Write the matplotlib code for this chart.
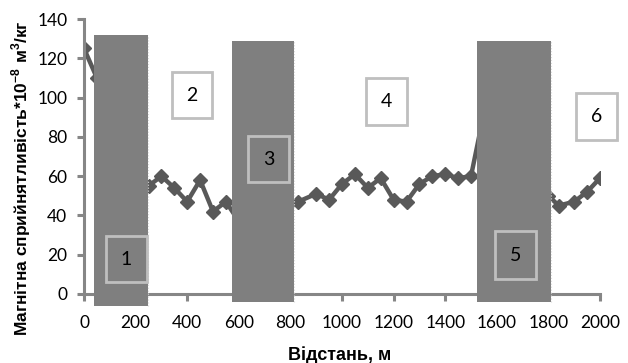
import matplotlib.pyplot as plt
from matplotlib.patches import Rectangle

plt.rcParams['mathtext.fontset'] = 'custom'
plt.rcParams['mathtext.rm'] = 'Liberation Sans'
plt.rcParams['mathtext.bf'] = 'Liberation Sans:bold'

# profile data (distance, m / susceptibility)
distance = [0, 50, 100, 150, 200, 250, 300, 350, 400, 450, 500, 550, 600,
            650, 700, 750, 800, 830, 900, 950, 1000, 1050, 1100, 1150, 1200,
            1250, 1300, 1350, 1400, 1450, 1500, 1550, 1600, 1650, 1700, 1750,
            1800, 1840, 1900, 1950, 2000]
suscept = [125, 110, 90, 75, 62, 55, 60, 54, 47, 58, 42, 47, 37,
           44, 48, 45, 47, 47, 51, 48, 56, 61, 54, 59, 48,
           47, 56, 60, 61, 59, 60, 92, 90, 80, 70, 60,
           50, 45, 47, 52, 59]

# dark zones: (x start, x end, top)
zones = [(40, 249, 132), (575, 814, 129), (1525, 1810, 129)]
zone_bottom = [-6, -4, -4]

# numbered boxes: label, x range, y range
box_labels = ['1', '2', '3', '4', '5', '6']
box_x = [(85, 244), (341, 496), (636, 795), (1093, 1252), (1593, 1752), (1907, 2066)]
box_y = [(6, 29.5), (89.6, 113), (57, 80.4), (86, 110), (7.6, 32), (78.4, 102.3)]
box_face = ['#7f7f7f', 'white', '#7f7f7f', 'white', '#7f7f7f', 'white']

fig = plt.figure(figsize=(6.28, 3.63), dpi=100)
ax = fig.add_axes([84 / 628, 1 - 294 / 363, 516 / 628, 275 / 363])

ax.plot(distance, suscept, color='#595959', lw=3.2, marker='D', ms=7,
        zorder=2)

for (x0, x1, top), bot in zip(zones, zone_bottom):
    ax.add_patch(Rectangle((x0, bot), x1 - x0, top - bot, facecolor='#7f7f7f',
                           edgecolor='none', zorder=3, clip_on=False))
    ax.plot([x1, x1], [bot, top], color='#d9d9d9', lw=0.8, ls=':', zorder=3,
            clip_on=False)

for lab, (x0, x1), (y0, y1), fc in zip(box_labels, box_x, box_y, box_face):
    ax.add_patch(Rectangle((x0, y0), x1 - x0, y1 - y0, facecolor=fc,
                           edgecolor='#bfbfbf', lw=2, zorder=4, clip_on=False))
    ax.text((x0 + x1) / 2, (y0 + y1) / 2, lab, ha='center', va='center',
            fontsize=14, family='Lato', color='black', zorder=5)

ax.set_xlim(0, 2000)
ax.set_ylim(0, 140)
ax.set_xticks(range(0, 2001, 200))
ax.set_yticks(range(0, 141, 20))
for s in ['top', 'right']:
    ax.spines[s].set_visible(False)
for s in ['left', 'bottom']:
    ax.spines[s].set_color('#868686')
    ax.spines[s].set_linewidth(2.2)
ax.tick_params(direction='out', length=5, width=2.2, color='#868686',
               labelsize=12.5)
ax.tick_params(axis='x', pad=10)
ax.tick_params(axis='y', pad=7)
for lbl in ax.get_xticklabels() + ax.get_yticklabels():
    lbl.set_family('Lato')

ax.set_xlabel('Відстань, м', fontsize=13, fontweight='bold',
              family='Liberation Sans', va='center')
ax.xaxis.set_label_coords(0.496, -0.222)
ax.set_ylabel('Магнітна сприйнятливість*10$^{\\mathbf{-8}}$ м$^{\\mathbf{3}}$/кг',
              fontsize=12.5, fontweight='bold', family='Liberation Sans',
              va='center')
ax.yaxis.set_label_coords(-0.122, 0.42)

fig.savefig('out.png', dpi=100)
